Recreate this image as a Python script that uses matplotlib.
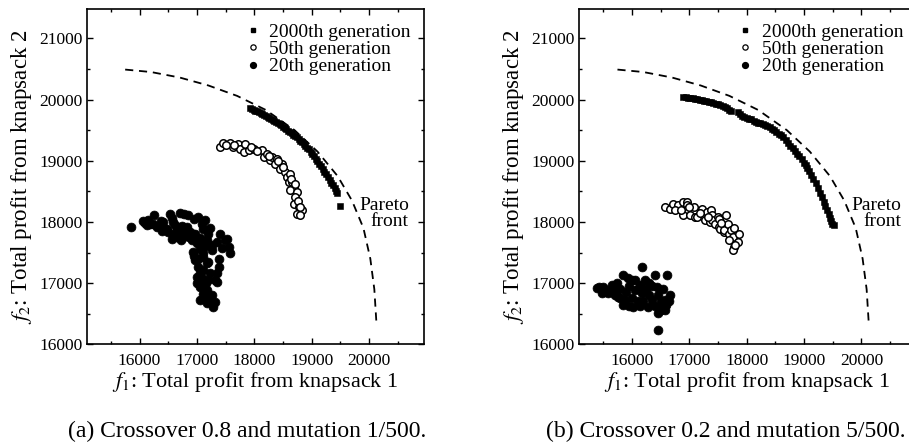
import matplotlib
matplotlib.use("Agg")
import matplotlib.pyplot as plt
from matplotlib.lines import Line2D
from matplotlib.ticker import MultipleLocator

plt.rcParams['font.family'] = ['Liberation Serif', 'DejaVu Serif']
plt.rcParams['mathtext.fontset'] = 'stix'

# ---------------- Pareto front (same for both runs) ----------------
front_f1 = [15750, 16200, 16700, 17200, 17700, 18200, 18700, 19100, 19450,
            19700, 19900, 20020, 20090, 20130]
front_f2 = [20490, 20450, 20360, 20230, 20060, 19830, 19500, 19150, 18750,
            18350, 17900, 17400, 16900, 16300]

# ---------------- (a) crossover 0.8, mutation 1/500 ----------------
a_gen2000_f1 = [17930, 17960, 17990, 18020, 18050, 18080, 18110, 18140, 18170, 18200,
                18230, 18260, 18290, 18320, 18350, 18380, 18410, 18440, 18470, 18500,
                18530, 18560, 18590, 18620, 18650, 18680, 18710, 18740, 18770, 18800,
                18830, 18860, 18890, 18920, 18950, 18980, 19010, 19040, 19070, 19100,
                19130, 19160, 19190, 19220, 19250, 19280, 19310, 19340, 19370, 19400,
                19420, 19440, 19490]
a_gen2000_f2 = [19860, 19845, 19835, 19820, 19808, 19790, 19778, 19762, 19748, 19730,
                19716, 19700, 19684, 19668, 19650, 19632, 19614, 19596, 19576, 19556,
                19536, 19514, 19494, 19472, 19450, 19428, 19404, 19380, 19354, 19328,
                19302, 19276, 19246, 19216, 19184, 19150, 19112, 19076, 19036, 18996,
                18954, 18912, 18868, 18824, 18784, 18738, 18692, 18644, 18598, 18550,
                18505, 18470, 18256]

a_gen50_f1 = [17405, 17452, 17579, 17637, 17707, 17754, 17841, 17812, 17899, 17986,
              18133, 18161, 18220, 18265, 18307, 18394, 18365, 18482, 18452, 18539,
              18569, 18627, 18597, 18656, 18684, 18614, 18743, 18714, 18684, 18771,
              18831, 18743, 18801, 17500, 17650, 17950, 18050, 18250, 18420, 18500,
              18640, 18700, 18760, 18800]
a_gen50_f2 = [19224, 19289, 19289, 19224, 19279, 19197, 19268, 19142, 19170, 19197,
              19181, 19060, 19116, 19006, 19060, 19034, 18953, 18953, 18871, 18816,
              18734, 18790, 18653, 18653, 18571, 18517, 18489, 18408, 18300, 18245,
              18191, 18137, 18109, 19260, 19250, 19230, 19160, 19080, 18990, 18900,
              18700, 18620, 18350, 18250]

a_gen20_f1 = [15846, 16056, 16090, 16126, 16180, 16258, 16240, 16300, 16358, 16380,
              16415, 16450, 16474, 16503, 16532, 16560, 16590, 16561, 16620, 16649,
              16649, 16680, 16707, 16740, 16764, 16777, 16800, 16824, 16852, 16860,
              16880, 16911, 16940, 16969, 17026, 17080, 17113, 17143, 17060, 17100,
              17173, 16998, 16939, 16969, 17026, 17056, 17100, 17113, 17173, 17113,
              17050, 16998, 17085, 17056, 17201, 17173, 17143, 17260, 17056, 17173,
              17318, 17288, 17260, 17260, 17347, 17405, 17492, 17522, 17550, 17434,
              17579, 17376, 17376, 17347, 17318, 17347, 17200, 17230, 17150, 17000,
              17100, 17220, 16950, 17020, 17150, 17200, 16720, 16600, 16400, 16150,
              16700, 16950, 17220]
a_gen20_f2 = [17918, 18011, 17980, 17946, 17960, 18109, 17960, 17918, 17946, 18010,
              18000, 17880, 17892, 17837, 18137, 18060, 18000, 17729, 17950, 17892,
              17756, 17800, 17865, 17940, 17756, 18137, 17820, 17918, 18109, 17760,
              17840, 17702, 17800, 17810, 18082, 17960, 17892, 18028, 17740, 17680,
              17702, 17648, 17511, 17375, 17266, 17560, 17500, 17429, 17321, 17212,
              17160, 17103, 17076, 16940, 17049, 16886, 16777, 16804, 16723, 16669,
              16695, 16613, 17620, 17538, 17675, 17810, 17702, 17729, 17593, 17566,
              17485, 17402, 17266, 17158, 17049, 17021, 17350, 17160, 17000, 17000,
              16830, 16740, 17450, 17400, 17600, 17800, 17700, 17800, 17850, 18030,
              18150, 18050, 17900]

# ---------------- (b) crossover 0.2, mutation 5/500 ----------------
b_gen2000_f1 = [16900, 16940, 16980, 17020, 17060, 17100, 17140, 17180, 17220, 17260,
                17300, 17340, 17380, 17420, 17460, 17500, 17540, 17580, 17620, 17660,
                17700, 17720, 17850, 17880, 17920, 17960, 18000, 18040, 18080, 18120,
                18160, 18200, 18240, 18280, 18320, 18360, 18400, 18440, 18480, 18520,
                18560, 18600, 18640, 18680, 18720, 18760, 18800, 18840, 18880, 18920,
                18960, 19000, 19030, 19060, 19090, 19120, 19160, 19200, 19240, 19280,
                19310, 19340, 19370, 19400, 19430, 19450, 19470, 19480, 19530]
b_gen2000_f2 = [20045, 20040, 20030, 20025, 20018, 20012, 20005, 19998, 19990, 19982,
                19972, 19962, 19955, 19945, 19935, 19925, 19910, 19895, 19880, 19860,
                19835, 19820, 19800, 19770, 19735, 19715, 19700, 19690, 19675, 19655,
                19640, 19625, 19612, 19600, 19580, 19560, 19545, 19525, 19500, 19475,
                19445, 19420, 19385, 19345, 19290, 19245, 19205, 19160, 19115, 19070,
                19030, 18970, 18925, 18880, 18830, 18775, 18705, 18640, 18560, 18480,
                18410, 18330, 18260, 18200, 18130, 18070, 18010, 17965, 17950]

b_gen50_f1 = [16579, 16667, 16724, 16812, 16899, 16969, 16958, 16754, 16941, 16899,
              17016, 17086, 17103, 17143, 17220, 17307, 17278, 17377, 17394, 17365,
              17405, 17452, 17493, 17510, 17522, 17539, 17597, 17609, 17639, 17667,
              17696, 17726, 17754, 17784, 17842, 17871, 17754, 16850, 17000, 17180,
              17330, 17560, 17700, 17800, 17780]
b_gen50_f2 = [18245, 18219, 18300, 18272, 18326, 18326, 18272, 18191, 18191, 18109,
              18109, 18245, 18082, 18082, 18219, 18163, 18028, 18191, 18109, 18000,
              18028, 17974, 18082, 18055, 17919, 17892, 17837, 17865, 18109, 17974,
              17810, 17865, 17756, 17593, 17674, 17810, 17538, 18200, 18250, 18150,
              18080, 17980, 17700, 17620, 17900]

b_gen20_f1 = [15398, 15420, 15474, 15503, 15590, 15649, 15707, 15765, 15852, 15881,
              15939, 16026, 16056, 16143, 16173, 16173, 16230, 16288, 16347, 16405,
              16433, 16462, 16462, 16521, 16579, 16579, 16609, 16667, 15550, 15650,
              15700, 15800, 15800, 15900, 15950, 16000, 16050, 16100, 16100, 16200,
              16250, 16300, 16350, 16400, 16450, 16500, 16550, 16600, 16650, 16500,
              15850, 15950, 16150, 16300, 15750, 16000]
b_gen20_f2 = [16913, 16940, 16832, 16940, 16832, 16967, 16940, 16777, 17130, 16723,
              17077, 16613, 16886, 16967, 17266, 16832, 17049, 16613, 16723, 17130,
              16940, 16505, 16233, 16641, 16723, 16560, 17130, 16804, 16880, 16850,
              16800, 16900, 16750, 16850, 16950, 16750, 17050, 16700, 16900, 16700,
              16900, 16800, 16950, 16620, 16800, 16700, 16900, 16650, 16700, 16560,
              16650, 16620, 16620, 17000, 17000, 17050]

panels = [
    dict(g2000=(a_gen2000_f1, a_gen2000_f2), g50=(a_gen50_f1, a_gen50_f2),
         g20=(a_gen20_f1, a_gen20_f2), caption="(a) Crossover 0.8 and mutation 1/500."),
    dict(g2000=(b_gen2000_f1, b_gen2000_f2), g50=(b_gen50_f1, b_gen50_f2),
         g20=(b_gen20_f1, b_gen20_f2), caption="(b) Crossover 0.2 and mutation 5/500."),
]

W, H = 909, 443
fig = plt.figure(figsize=(W / 100, H / 100), dpi=100)

ax_left_px = [86.7, 579.0]
ax_w_px, ax_h_px = 337.0, 335.3
ax_bottom_px = 344.3
caption_x_px = [247, 726]

for i, p in enumerate(panels):
    ax = fig.add_axes([ax_left_px[i] / W, (H - ax_bottom_px) / H, ax_w_px / W, ax_h_px / H])

    ax.plot(front_f1, front_f2, color='black', lw=1.3, dashes=(4.5, 3.2), zorder=1)

    ax.plot(*p['g20'], linestyle='none', marker='o', ms=6.4, mfc='black', mec='black',
            mew=0.5, zorder=2)
    ax.plot(*p['g50'], linestyle='none', marker='o', ms=5.4, mfc='white', mec='black',
            mew=1.1, zorder=3)
    ax.plot(*p['g2000'], linestyle='none', marker='s', ms=5.0, mfc='black', mec='black',
            mew=0.4, zorder=4)

    ax.set_xlim(15080, 20950)
    ax.set_ylim(16000, 21480)
    ax.xaxis.set_major_locator(MultipleLocator(1000))
    ax.xaxis.set_minor_locator(MultipleLocator(500))
    ax.yaxis.set_major_locator(MultipleLocator(1000))
    ax.yaxis.set_minor_locator(MultipleLocator(500))
    ax.tick_params(which='both', direction='in', top=True, right=True, labelsize=12.5,
                   width=1.0)
    ax.tick_params(axis='x', which='both', pad=6)
    ax.tick_params(axis='y', which='both', pad=3)
    ax.tick_params(which='major', length=4)
    ax.tick_params(which='minor', length=2.3)
    for s in ax.spines.values():
        s.set_linewidth(1.2)

    ax.set_xlabel(r'$f_1$: Total profit from knapsack 1', fontsize=16, labelpad=1)
    ax.set_ylabel(r'$f_2$: Total profit from knapsack 2', fontsize=16.5, labelpad=4)

    ax.text(20690, 18142, 'Pareto\nfront', ha='right', va='center', fontsize=14,
            linespacing=0.95)

    handles = [
        Line2D([], [], linestyle='none', marker='s', ms=3.0, mfc='black', mec='black'),
        Line2D([], [], linestyle='none', marker='o', ms=3.8, mfc='white', mec='black', mew=0.9),
        Line2D([], [], linestyle='none', marker='o', ms=4.2, mfc='black', mec='black'),
    ]
    ax.legend(handles, ['2000th generation', '50th generation', '20th generation'],
              loc='upper right', bbox_to_anchor=(0.962, 0.957), frameon=False,
              fontsize=14, borderpad=0, borderaxespad=0, handlelength=0.9,
              handletextpad=0.4, labelspacing=-0.02)

    fig.text(caption_x_px[i] / W, 1 - 431 / H, p['caption'], ha='center', va='center',
             fontsize=17)

fig.savefig('out.png', dpi=100)
